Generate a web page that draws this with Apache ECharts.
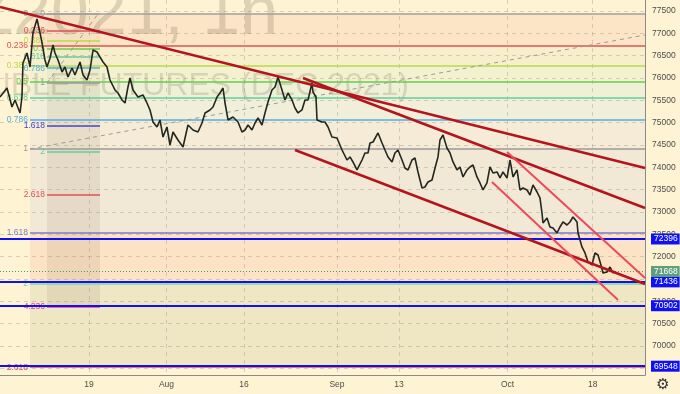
<!DOCTYPE html>
<html><head><meta charset="utf-8">
<script src="https://cdn.jsdelivr.net/npm/echarts@6/dist/echarts.min.js"></script>
<style>html,body{margin:0;padding:0;background:#fef3d2}#c{width:680px;height:394px}</style>
</head><body><div id="c"></div>
<script>
// ---- data (x = trading-day index from Jul 1, y = price) ----
const dayTicks = [12, 22, 32, 44, 52, 66, 77];
const dayLabels = ['19', 'Aug', '16', 'Sep', '13', 'Oct', '18'];
const priceTicks = [69500, 70000, 70500, 71000, 71500, 72000, 72500, 73000, 73500, 74000, 74500, 75000, 75500, 76000, 76500, 77000, 77500];

const pricePoints = [
 [0.52,75575],[1.42,75776],[2.06,75351],[2.45,75508],[3.10,75217],[3.35,75575],[3.48,76336],[4.00,76560],[4.39,76246],[4.77,77008],
 [5.29,77321],[5.68,77008],[5.94,76784],[6.32,76403],[6.58,76246],[6.97,76448],[7.35,76739],[7.61,76560],[8.00,76403],[8.52,76134],
 [8.90,76246],[9.29,76023],[9.81,76224],[10.19,76067],[10.84,76358],[11.23,76067],[11.74,75955],[12.13,76179],[12.52,76627],[13.03,76582],
 [13.42,76470],[13.81,76358],[14.32,76246],[14.71,75955],[15.35,75732],[15.74,75664],[16.26,75508],[16.65,75440],[17.03,75799],[17.29,76000],
 [17.68,75732],[18.32,75575],[18.97,75620],[19.48,75440],[19.87,75284],[20.26,75015],[20.77,74903],[21.16,75060],[21.55,74679],[22.06,74903],
 [22.45,74500],[22.84,74791],[23.48,74612],[24.13,74456],[24.77,74948],[25.42,74836],[26.06,74791],[26.58,74993],[26.97,75217],[27.61,75284],
 [28.00,75351],[28.52,75575],[28.90,75664],[29.29,75776],[29.55,75440],[29.94,75060],[30.58,75127],[31.23,75015],[31.74,74791],[32.13,74836],
 [32.52,74948],[33.03,74836],[33.42,74993],[33.81,75105],[34.32,74948],[34.71,75217],[35.10,75463],[35.61,75732],[36.00,75799],[36.39,76023],
 [36.90,75732],[37.29,75508],[37.68,75664],[38.19,75508],[38.58,75329],[38.97,75217],[39.48,75284],[39.87,75508],[40.26,75508],[40.77,75888],
 [40.90,75687],[41.29,75575],[41.42,75060],[42.06,75015],[42.45,75015],[42.84,74903],[43.35,74679],[44.00,74657],[44.65,74388],[45.29,74164],
 [45.68,74232],[46.06,74120],[46.58,73941],[47.23,74164],[47.61,74321],[48.00,74321],[48.26,74545],[48.65,74567],[49.29,74769],[49.81,74545],
 [50.19,74388],[50.58,74232],[51.10,74120],[51.48,74321],[51.87,74388],[52.39,74164],[52.77,73985],[53.16,73941],[53.68,74164],[54.06,74209],
 [54.45,73896],[54.97,73538],[55.35,73560],[55.74,73672],[56.26,73717],[56.65,73985],[57.03,74232],[57.29,74612],[57.68,74724],[58.19,74433],
 [58.58,74321],[58.97,74120],[59.48,73941],[59.87,74008],[60.26,73784],[60.77,73941],[61.16,74008],[61.55,74053],[62.06,73784],[62.45,73650],
 [62.84,73493],[63.35,73650],[63.74,74008],[64.13,73873],[64.65,73896],[65.03,73762],[65.42,73896],[65.94,73762],[66.32,74164],[66.71,73784],
 [67.23,73941],[67.61,73493],[68.00,73538],[68.52,73493],[68.90,73381],[69.29,73605],[69.81,73448],[70.19,73314],[70.45,72978],[70.58,72754],
 [71.10,72866],[71.48,72665],[71.87,72642],[72.39,72530],[72.77,72665],[73.16,72777],[73.68,72709],[74.06,72777],[74.45,72888],[74.97,72777],
 [75.10,72530],[75.61,72217],[76.00,72083],[76.39,71881],[76.90,71814],[77.29,72083],[77.68,72038],[78.06,71814],[78.32,71635],[78.84,71657],
 [79.23,71769],[79.61,71635],[79.87,71668]
];

const bigFibLabels = ['0', '0.236', '0.382', '0.5', '0.618', '0.786', '1', '1.618', '2', '2.618'];
const bigFibValues = [77433, 76720, 76279, 75922, 75565, 75058, 74411, 72543, 71389, 69525];
const bigFibStartDay = 4.39;
const smallFibLabels = ['0', '0.236', '0.382', '0.5', '0.618', '0.786', '1', '1.618', '2', '2.618', '4.236'];
const smallFibValues = [77433, 77068, 76843, 76660, 76478, 76219, 75888, 74933, 74343, 73388, 70890];
const smallFibStartDay = 6.58, smallFibEndDay = 13.42;

const keyLevels = [72396, 71436, 70902, 69548];
const lastPrice = 71668;

const trendLinesDark = [
  [[0.52, 77590], [83.74, 73985]],
  [[39.61, 76000], [83.74, 73090]],
  [[38.58, 74388], [83.74, 71389]]
];
const trendLinesPink = [
  [[65.94, 74344], [83.74, 71523]],
  [[64.00, 73672], [80.26, 71030]]
];
const fibTrendLines = [
  [[4.39, 74411], [83.74, 76963]],
  [[6.58, 75888], [13.16, 77433]]
];

// ---- styles ----
const X_MIN = 0.516, X_MAX = 83.742, Y_MIN = 69351, Y_MAX = 77746;
const bigFibColors = ['#a0a0a0', '#e05252', '#b9d94a', '#62cf4c', '#5fcf9a', '#56ade0', '#9a9a9a', '#7a7ad0', '#78d8ae', '#e05252'];
const bandColors = ['#fce4c7', '#f7efcc', '#f3f1d0', '#eef1d5', '#f1efd9', '#f5ebd6', '#f2e8d6', '#fde3c5', '#efe6c4'];
const smallFibColors = ['#a0a0a0', '#e05252', '#b9d94a', '#62cf4c', '#5fcf9a', '#56ade0', '#9a9a9a', '#4444cc', '#5fcf9a', '#e05252', '#e040a0'];
const FONT = 'Liberation Sans, Arial, sans-serif';

const chart = echarts.init(document.getElementById('c'), null, { renderer: 'canvas' });

const bandData = [];
for (let i = 0; i < bigFibValues.length - 1; i++) {
  bandData.push([
    { coord: [bigFibStartDay, bigFibValues[i]], itemStyle: { color: bandColors[i] } },
    { coord: [X_MAX, bigFibValues[i + 1]] }
  ]);
}
const smallBand = [[
  { coord: [smallFibStartDay, smallFibValues[6]], itemStyle: { color: 'rgba(120,95,70,0.10)' } },
  { coord: [smallFibEndDay, smallFibValues[smallFibValues.length - 1]] }
], [
  { coord: [smallFibStartDay, smallFibValues[0]], itemStyle: { color: 'rgba(120,95,70,0.04)' } },
  { coord: [smallFibEndDay, smallFibValues[6]] }
]];

function fibLine(x1, x2, v, color, text, width) {
  return [
    { coord: [x1, v], lineStyle: { color: color, width: width, type: 'solid' },
      label: { show: true, position: 'start', formatter: text, color: color, fontSize: 8.5, fontFamily: FONT, distance: 2 } },
    { coord: [x2, v] }
  ];
}
const bigFibLines = bigFibValues.map((v, i) => fibLine(bigFibStartDay, X_MAX, v, bigFibColors[i], bigFibLabels[i], 1.5));
const smallFibLines = smallFibValues.map((v, i) => fibLine(smallFibStartDay, smallFibEndDay, v, smallFibColors[i], smallFibLabels[i], 1.5));

const keyLines = keyLevels.map(v => [
  { coord: [X_MIN, v], lineStyle: { color: '#1010f0', width: 2, type: 'solid' },
    label: { show: true, position: 'end', formatter: String(v), color: '#ffffff', backgroundColor: '#1010f5',
      padding: [1, 2, 1, 3], fontSize: 8.5, fontFamily: FONT, distance: 6 } },
  { coord: [X_MAX, v] }
]);
const lastLine = [[
  { coord: [X_MIN, lastPrice], lineStyle: { color: '#3aa060', width: 1, type: [1, 2] },
    label: { show: true, position: 'end', formatter: String(lastPrice), color: '#ffffff', backgroundColor: '#5e9e7c',
      padding: [1, 2, 1, 3], fontSize: 8.5, fontFamily: FONT, distance: 6 } },
  { coord: [X_MAX, lastPrice] }
]];

const lineSeries = (pts, color, width, type, z) => ({
  type: 'line', data: pts, showSymbol: false, symbol: 'none', silent: true, z: z,
  lineStyle: { color: color, width: width, type: type }, clip: true
});

const series = [
  { type: 'line', data: [], z: -3, silent: true, markArea: { z: -3, silent: true, data: bandData } },
  { type: 'line', data: [], z: -2.5, silent: true, markArea: { z: -2.5, silent: true, data: smallBand } },
  { type: 'line', data: [], z: 3, silent: true, markLine: { z: 3, silent: true, symbol: ['none', 'none'], data: bigFibLines.concat(smallFibLines) } },
  ...fibTrendLines.map(p => lineSeries(p, '#9a9a9a', 1, [4, 4], 3.5)),
  lineSeries(pricePoints, '#23271f', 1.6, 'solid', 5),
  { type: 'line', data: [], z: 4.5, silent: true, markLine: { z: 4.5, silent: true, symbol: ['none', 'none'], data: keyLines.concat(lastLine) } },
  ...trendLinesDark.map(p => lineSeries(p, '#b3151f', 2.5, 'solid', 6)),
  ...trendLinesPink.map(p => lineSeries(p, '#ee4a5c', 2, 'solid', 6))
];

chart.setOption({
  backgroundColor: '#fef3d2',
  animation: false,
  grid: { left: 0, right: 35, top: 0, bottom: 19, containLabel: false },
  xAxis: {
    type: 'value', min: X_MIN, max: X_MAX, z: -2,
    axisLine: { show: true, onZero: false, lineStyle: { color: '#8a8a8a', width: 1 } },
    axisTick: { show: false, customValues: dayTicks },
    axisLabel: { customValues: dayTicks, formatter: v => { const i = dayTicks.indexOf(v); return i >= 0 ? dayLabels[i] : ''; },
      color: '#4d4d4d', fontSize: 8.5, fontFamily: FONT, margin: 5 },
    splitLine: { show: true, lineStyle: { color: 'rgba(150,140,120,0.35)', type: [4, 4], width: 1 } }
  },
  yAxis: {
    type: 'value', position: 'right', min: Y_MIN, max: Y_MAX, z: -2,
    axisLine: { show: true, onZero: false, lineStyle: { color: '#8a8a8a', width: 1 } },
    axisTick: { show: false, customValues: priceTicks },
    axisLabel: { customValues: priceTicks, formatter: v => String(Math.round(v)), color: '#4d4d4d', fontSize: 8.5, fontFamily: FONT, margin: 7 },
    splitLine: { show: true, lineStyle: { color: 'rgba(150,140,120,0.35)', type: [4, 4], width: 1 } }
  },
  graphic: [
    { type: 'text', z: 0, silent: true, style: { text: 'SIZ2021, 1h', x: 278, y: 15, align: 'right', verticalAlign: 'middle',
      font: '68px ' + FONT, fill: 'rgba(110,95,75,0.22)' } },
    { type: 'text', z: 0, silent: true, style: { text: 'US DOLLAR/RUSSIAN RUBLE FUTURES (DEC 2021)', x: 409, y: 86, align: 'right', verticalAlign: 'middle',
      font: '32px ' + FONT, fill: 'rgba(110,95,75,0.2)' } },
    { type: 'text', z: 10, silent: true, style: { text: '⚙', x: 663, y: 385, align: 'center', verticalAlign: 'middle',
      font: '15px DejaVu Sans', fill: '#333333' } }
  ],
  series: series
});
</script>
</body></html>
